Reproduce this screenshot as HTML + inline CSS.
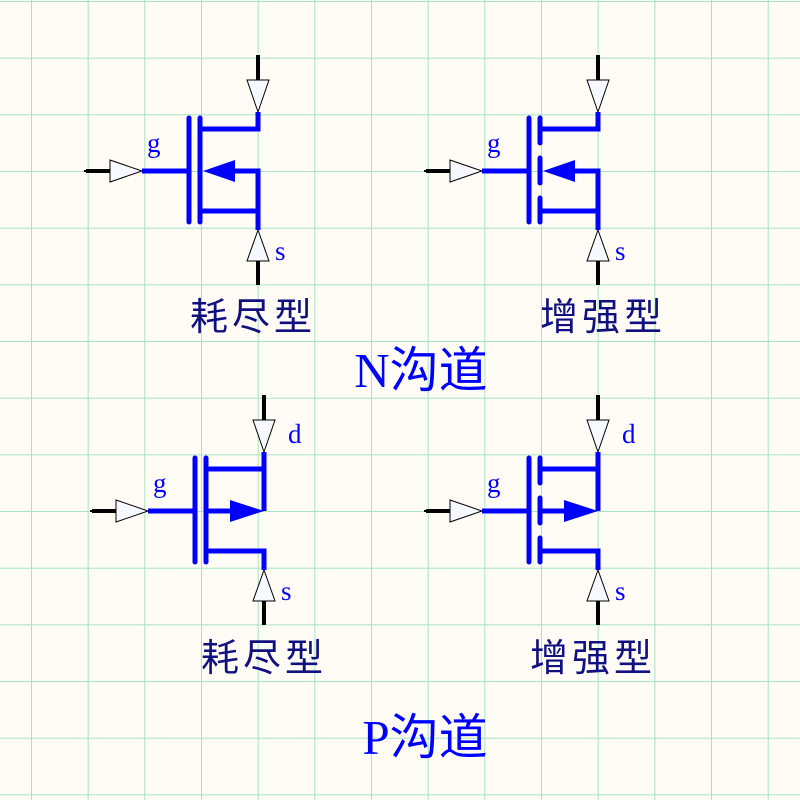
<!DOCTYPE html>
<html><head><meta charset="utf-8"><style>
html,body{margin:0;padding:0;background:#fffcf6}
svg{display:block}
.t{font-family:"Liberation Serif",serif;fill:#0000ff;font-size:27px}
.c{font-family:"Liberation Sans","Noto Sans CJK SC",sans-serif;fill:#101080;font-size:38px}
.b{font-family:"Liberation Serif","Noto Sans CJK SC",serif;fill:#0000ff;font-size:49px}
</style></head><body>
<svg width="800" height="800" viewBox="0 0 800 800" xmlns="http://www.w3.org/2000/svg">
<defs>
<pattern id="g" x="31" y="1" width="56.67" height="56.67" patternUnits="userSpaceOnUse">
<path d="M0 0V56.67M0 0H56.67" stroke="#a6e2c2" stroke-width="2" fill="none"/>
</pattern>
<g id="pins">
<line x1="-172" y1="0" x2="-148" y2="0" stroke="#000" stroke-width="4"/>
<line x1="-174" y1="0" x2="-168" y2="0" stroke="#000" stroke-width="2"/>
<polygon points="-148,-11 -116,0 -148,11" fill="#f6f9ff" stroke="#000" stroke-width="1"/>
<line x1="-116" y1="0" x2="-69" y2="0" stroke="#0000ff" stroke-width="5"/>
<line x1="0" y1="-116" x2="0" y2="-91" stroke="#000" stroke-width="4"/>
<polygon points="-11,-91 11,-91 0,-59" fill="#f6f9ff" stroke="#000" stroke-width="1"/>
<line x1="0" y1="90" x2="0" y2="114" stroke="#000" stroke-width="4"/>
<polygon points="-11,90 11,90 0,59" fill="#f6f9ff" stroke="#000" stroke-width="1"/>
<line x1="-69" y1="-53" x2="-69" y2="51" stroke="#0000ff" stroke-width="5" stroke-linecap="round"/>
<polyline points="-58,-42 0,-42 0,-59" fill="none" stroke="#0000ff" stroke-width="5"/>
<polyline points="-58,40 0,40 0,59" fill="none" stroke="#0000ff" stroke-width="5"/>
</g>
<g id="dep">
<use href="#pins"/>
<line x1="-58" y1="-53" x2="-58" y2="51" stroke="#0000ff" stroke-width="5" stroke-linecap="round"/>
</g>
<g id="enh">
<use href="#pins"/>
<g stroke="#0000ff" stroke-width="5" stroke-linecap="round">
<line x1="-58" y1="-53" x2="-58" y2="-28"/>
<line x1="-58" y1="-13" x2="-58" y2="12"/>
<line x1="-58" y1="27" x2="-58" y2="51"/>
</g>
</g>
<g id="nArrow">
<polyline points="-25,0 0,0 0,40" fill="none" stroke="#0000ff" stroke-width="5"/>
<polygon points="-55,0 -23,-11 -23,11" fill="#0000ff"/>
</g>
<g id="pArrow">
<polyline points="-58,0 -20,0" fill="none" stroke="#0000ff" stroke-width="5"/>
<polyline points="0,-42 0,0" fill="none" stroke="#0000ff" stroke-width="5"/>
<polygon points="-34,-11 0,0 -34,11" fill="#0000ff"/>
</g>
</defs>
<rect width="800" height="800" fill="#fffcf6"/>
<rect width="800" height="800" fill="url(#g)"/>

<g transform="translate(258,171)"><use href="#dep"/><use href="#nArrow"/>
<text class="t" x="-111" y="-19">g</text><text class="t" x="17" y="89">s</text></g>
<g transform="translate(598,171)"><use href="#enh"/><use href="#nArrow"/>
<text class="t" x="-111" y="-19">g</text><text class="t" x="17" y="89">s</text></g>
<g transform="translate(264,511)"><use href="#dep"/><use href="#pArrow"/>
<text class="t" x="-111" y="-19">g</text><text class="t" x="17" y="89">s</text><text class="t" x="24" y="-68">d</text></g>
<g transform="translate(598,511)"><use href="#enh"/><use href="#pArrow"/>
<text class="t" x="-111" y="-19">g</text><text class="t" x="17" y="89">s</text><text class="t" x="24" y="-68">d</text></g>

<text class="c" x="251" y="330" text-anchor="middle" textLength="122">耗尽型</text>
<text class="c" x="601" y="330" text-anchor="middle" textLength="122">增强型</text>
<text class="b" x="421" y="387" text-anchor="middle">N沟道</text>
<text class="c" x="262" y="671" text-anchor="middle" textLength="122">耗尽型</text>
<text class="c" x="591" y="671" text-anchor="middle" textLength="122">增强型</text>
<text class="b" x="425" y="754" text-anchor="middle">P沟道</text>
</svg>
</body></html>
